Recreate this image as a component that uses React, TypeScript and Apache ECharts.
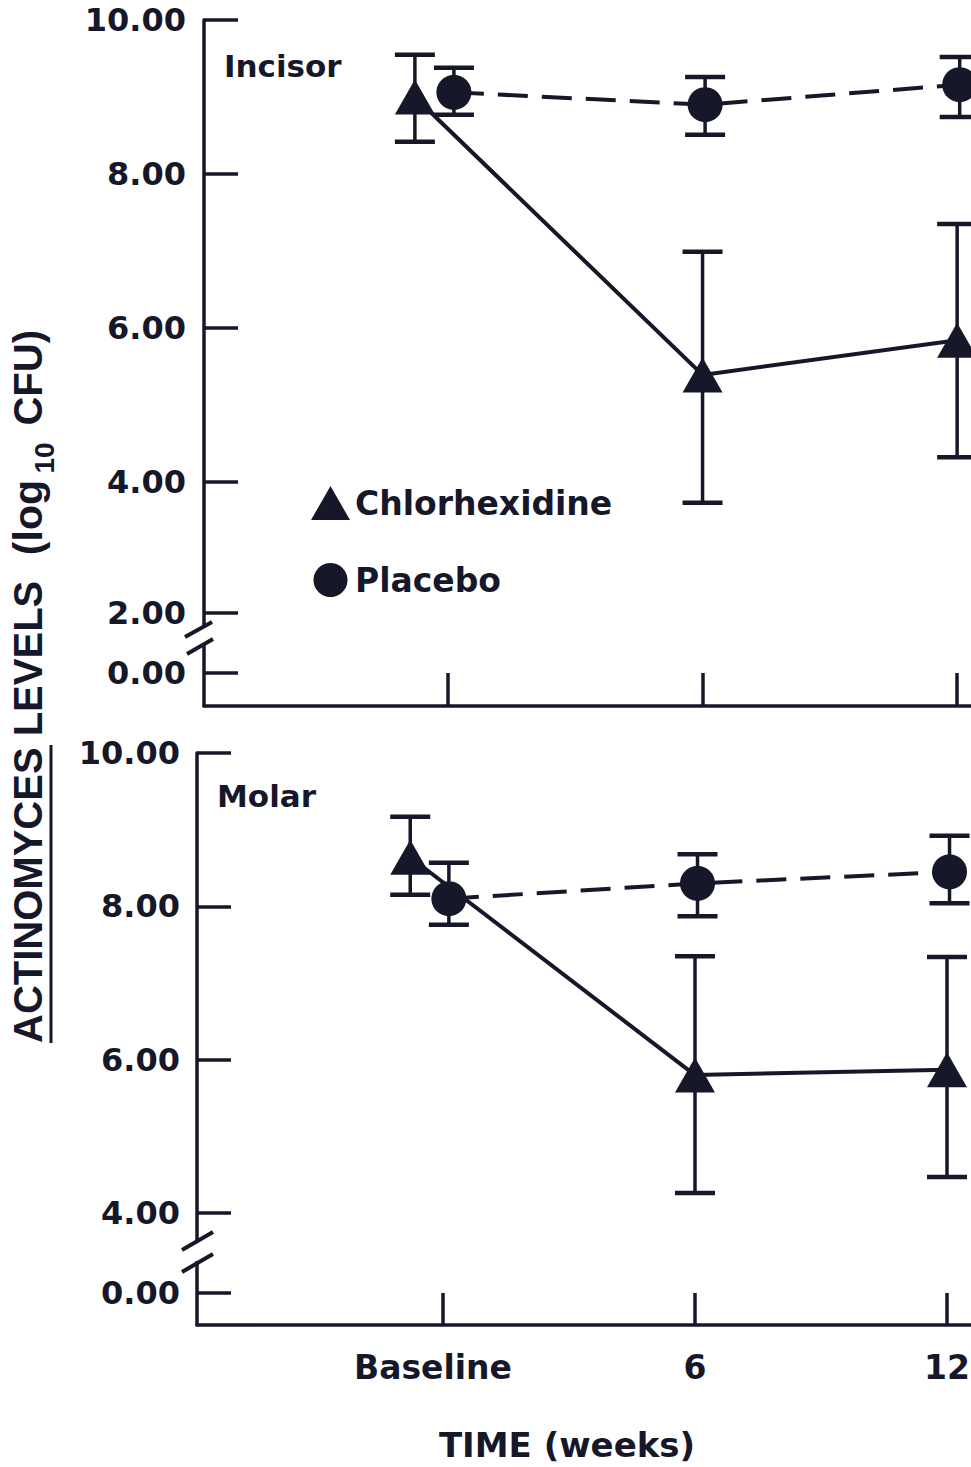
import React, { useEffect, useRef } from 'react';
import * as echarts from 'echarts';

// ---------- data ----------
const timepoints = [0, 6, 12];
const timeLabels = ['Baseline', '6', '12'];
const chlorDodge = [-0.78, 0, 0];
const placeboDodge = [0.14, 0.06, 0.06];

const incisorChlorMean = [9.0, 5.39, 5.84];
const incisorChlorLow = [8.42, 3.73, 4.32];
const incisorChlorHigh = [9.55, 6.99, 7.35];
const incisorPlaceboMean = [9.06, 8.9, 9.16];
const incisorPlaceboLow = [8.77, 8.51, 8.74];
const incisorPlaceboHigh = [9.38, 9.26, 9.52];

const molarChlorMean = [8.64, 5.8, 5.87];
const molarChlorLow = [8.15, 4.26, 4.47];
const molarChlorHigh = [9.17, 7.35, 7.34];
const molarPlaceboMean = [8.1, 8.3, 8.45];
const molarPlaceboLow = [7.76, 7.87, 8.04];
const molarPlaceboHigh = [8.57, 8.68, 8.92];

// broken axis: tick labels and the axis positions they are drawn at
const incisorTickLabels = ['10.00', '8.00', '6.00', '4.00', '2.00', '0.00'];
const incisorTickAt = [10, 8, 6, 4, 2.3, 1.52];
const molarTickLabels = ['10.00', '8.00', '6.00', '4.00', '0.00'];
const molarTickAt = [10, 8, 6, 4, 2.957];

const INK = '#17172a';
const FONT = 'DejaVu Sans';

function labelFor(at: number[], labels: string[]) {
  return (v: number) => {
    let best = 0;
    for (let i = 1; i < at.length; i++) if (Math.abs(at[i] - v) < Math.abs(at[best] - v)) best = i;
    return labels[best];
  };
}

function pts(dodge: number[], vals: number[]) {
  return timepoints.map((t, i) => [t + dodge[i], vals[i]]);
}

function errorSeries(name: string, idx: number, dodge: number[], low: number[], high: number[]) {
  return {
    type: 'custom',
    name,
    xAxisIndex: idx,
    yAxisIndex: idx,
    z: 2,
    silent: true,
    data: timepoints.map((t, i) => [t + dodge[i], low[i], high[i]]),
    encode: { x: 0, y: [1, 2] },
    renderItem: (params: any, api: any) => {
      const x = api.value(0);
      const lo = api.coord([x, api.value(1)]);
      const hi = api.coord([x, api.value(2)]);
      const hw = 20;
      return {
        type: 'group',
        children: [
          { type: 'line', shape: { x1: lo[0], y1: lo[1], x2: hi[0], y2: hi[1] }, style: { stroke: INK, lineWidth: 3.5 } },
          { type: 'line', shape: { x1: hi[0] - hw, y1: hi[1], x2: hi[0] + hw, y2: hi[1] }, style: { stroke: INK, lineWidth: 4.5 } },
          { type: 'line', shape: { x1: lo[0] - hw, y1: lo[1], x2: lo[0] + hw, y2: lo[1] }, style: { stroke: INK, lineWidth: 4.5 } },
        ],
      };
    },
  };
}

function chlorLine(idx: number, vals: number[]) {
  return {
    type: 'line', name: 'Chlorhexidine', xAxisIndex: idx, yAxisIndex: idx, z: 3, silent: true,
    data: pts(chlorDodge, vals), symbol: 'triangle', symbolSize: [40, 35], showAllSymbol: true,
    itemStyle: { color: INK }, lineStyle: { color: INK, width: 4 },
  };
}
function placeboLine(idx: number, vals: number[]) {
  return {
    type: 'line', name: 'Placebo', xAxisIndex: idx, yAxisIndex: idx, z: 3, silent: true,
    data: pts(placeboDodge, vals), symbol: 'circle', symbolSize: 35, showAllSymbol: true,
    itemStyle: { color: INK }, lineStyle: { color: INK, width: 4, type: [30, 14] },
  };
}

const tickLabelStyle = { color: INK, fontFamily: FONT, fontWeight: 'bold', fontSize: 32 };

function textEl(text: string, x: number, y: number, size: number, extra: any = {}) {
  return {
    type: 'text', x, y, ...extra,
    style: {
      text, fill: INK, fontFamily: FONT, fontWeight: 'bold', fontSize: size,
      textAlign: extra.textAlign || 'left', textVerticalAlign: 'middle',
    },
  };
}

function titleEl(text: string, x: number, y: number, size: number, align: string) {
  return {
    type: 'text', x, y, rotation: Math.PI / 2,
    style: { text, fill: INK, fontFamily: 'Liberation Sans', fontWeight: 'bold', fontSize: size, textAlign: align, textVerticalAlign: 'middle' },
  };
}

function lineEl(x1: number, y1: number, x2: number, y2: number, w = 3.5) {
  return { type: 'line', shape: { x1, y1, x2, y2 }, style: { stroke: INK, lineWidth: w }, z: 100 };
}

const axisLine = { onZero: false, lineStyle: { color: INK, width: 3.5 } };

const option: any = {
  animation: false,
  backgroundColor: '#fff',
  grid: [
    { left: 204, top: 20, width: 838, height: 686 },
    { left: 197, top: 753, width: 834, height: 572 },
  ],
  xAxis: [
    {
      type: 'value', gridIndex: 0, min: -5.75, max: 14, splitLine: { show: false },
      axisLine,
      axisTick: { customValues: timepoints, inside: true, length: 33, lineStyle: { color: INK, width: 3.5 } },
      axisLabel: { show: false },
    },
    {
      type: 'value', gridIndex: 1, min: -5.857, max: 14, splitLine: { show: false },
      axisLine,
      axisTick: { customValues: timepoints, inside: true, length: 32, lineStyle: { color: INK, width: 3.5 } },
      axisLabel: {
        customValues: timepoints, margin: 26, ...tickLabelStyle, fontSize: 33,
        formatter: (v: number) => {
          const s = labelFor(timepoints, timeLabels)(v);
          return v === timepoints[0] ? '{b|' + s + '}' : s;
        },
        rich: { b: { ...tickLabelStyle, fontSize: 33, padding: [0, 20, 0, 0] } },
      },
    },
  ],
  yAxis: [
    {
      type: 'value', gridIndex: 0, min: 1.09, max: 10, splitLine: { show: false },
      axisLine,
      axisTick: { customValues: incisorTickAt, inside: true, length: 34, lineStyle: { color: INK, width: 3.5 } },
      axisLabel: { customValues: incisorTickAt, margin: 18, ...tickLabelStyle, formatter: labelFor(incisorTickAt, incisorTickLabels) },
    },
    {
      type: 'value', gridIndex: 1, min: 2.54, max: 10, splitLine: { show: false },
      axisLine,
      axisTick: { customValues: molarTickAt, inside: true, length: 34, lineStyle: { color: INK, width: 3.5 } },
      axisLabel: { customValues: molarTickAt, margin: 17, ...tickLabelStyle, formatter: labelFor(molarTickAt, molarTickLabels) },
    },
  ],
  legend: {
    left: 311, top: 486, orient: 'vertical', itemWidth: 39, itemHeight: 34, itemGap: 43, padding: 0,
    selectedMode: false,
    data: [
      { name: 'Chlorhexidine', icon: 'triangle' },
      { name: 'Placebo', icon: 'circle' },
    ],
    itemStyle: { color: INK },
    textStyle: { color: INK, fontFamily: FONT, fontWeight: 'bold', fontSize: 33, lineHeight: 34 },
  },
  series: [
    errorSeries('Chlorhexidine SD', 0, chlorDodge, incisorChlorLow, incisorChlorHigh),
    errorSeries('Placebo SD', 0, placeboDodge, incisorPlaceboLow, incisorPlaceboHigh),
    chlorLine(0, incisorChlorMean),
    placeboLine(0, incisorPlaceboMean),
    errorSeries('Chlorhexidine SD', 1, chlorDodge, molarChlorLow, molarChlorHigh),
    errorSeries('Placebo SD', 1, placeboDodge, molarPlaceboLow, molarPlaceboHigh),
    chlorLine(1, molarChlorMean),
    placeboLine(1, molarPlaceboMean),
  ],
  graphic: [
    textEl('Incisor', 224, 66, 31),
    textEl('Molar', 217, 796, 31),
    textEl('TIME (weeks)', 567, 1445, 34, { textAlign: 'center' }),
    // y title
    titleEl('ACTINOMYCES LEVELS', 28, 1043, 40, 'left'),
    titleEl('(log', 28, 480, 41, 'right'),
    {
      type: 'text', x: 44, y: 458, rotation: Math.PI / 2,
      style: { text: '10', fill: INK, fontFamily: 'Liberation Sans', fontWeight: 'bold', fontSize: 28, textAlign: 'center', textVerticalAlign: 'middle' },
    },
    titleEl('CFU)', 28, 330, 40, 'right'),
    lineEl(51, 1043, 51, 745, 3),
    // axis breaks
    { type: 'rect', shape: { x: 198, y: 628, width: 12, height: 16 }, style: { fill: '#fff' }, z: 99 },
    lineEl(185, 637, 212, 622, 4),
    lineEl(187, 654, 213, 639, 4),
    { type: 'rect', shape: { x: 191, y: 1240, width: 12, height: 21 }, style: { fill: '#fff' }, z: 99 },
    lineEl(182, 1250, 213, 1232, 4),
    lineEl(182, 1272, 213, 1254, 4),
  ],
};

export default function App() {
  const ref = useRef<HTMLDivElement>(null);
  useEffect(() => {
    const chart = echarts.init(ref.current!, null, { renderer: 'svg' });
    chart.setOption(option);
    return () => chart.dispose();
  }, []);
  return (
    <div style={{ position: 'fixed', left: 0, top: 0, width: 971, height: 1467, overflow: 'hidden', background: '#fff' }}>
      <div ref={ref} style={{ width: 1100, height: 1467 }} />
    </div>
  );
}
